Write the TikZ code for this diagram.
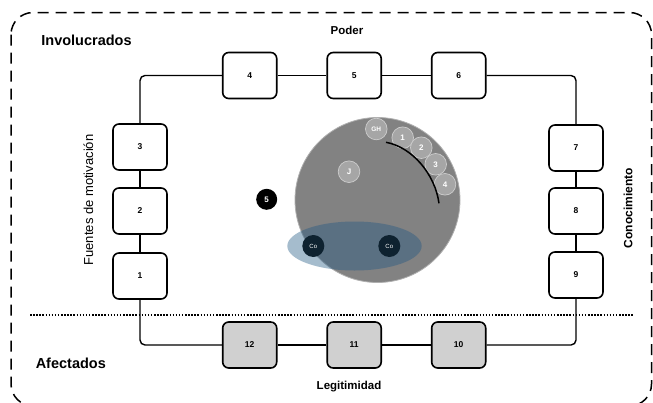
\documentclass[tikz,border=0pt]{standalone}
\usepackage{fontspec}
\setmainfont{Liberation Sans}
\usetikzlibrary{shapes.geometric}

\definecolor{boxgrey}{RGB}{208,208,208}
\definecolor{discgrey}{RGB}{130,130,130}
\definecolor{discedge}{RGB}{175,175,175}
\definecolor{smgrey}{RGB}{166,166,166}
\definecolor{smedge}{RGB}{205,205,205}
\definecolor{ellblue}{RGB}{30,87,130}
\definecolor{conavy}{RGB}{14,34,48}

\begin{document}
\begin{tikzpicture}[x=1pt,y=-1pt,
  box/.style={draw=black, line width=1.6pt, rounded corners=6pt, fill=white,
    minimum width=54pt, minimum height=46pt, inner sep=0pt,
    font=\fontsize{8.5}{10}\selectfont\bfseries},
  gbox/.style={box, fill=boxgrey},
  conn/.style={line width=1.4pt, rounded corners=5pt},
  frame/.style={line width=1.5pt, rounded corners=22pt, dash pattern=on 11pt off 7pt},
  sep/.style={line width=1.5pt, dash pattern=on 1.5pt off 1.6pt},
  biglabel/.style={font=\fontsize{14.5}{16}\selectfont\bfseries},
  axislabel/.style={font=\fontsize{11.5}{13}\selectfont\bfseries},
  disc/.style={circle, inner sep=0pt},
  member/.style={disc, fill=smgrey, draw=smedge, line width=0.7pt, minimum size=21.6pt,
    text=white, font=\fontsize{8}{9}\selectfont\bfseries},
  comember/.style={disc, fill=conavy, minimum size=22pt, text=white,
    font=\fontsize{6}{7}\selectfont},
]
\useasboundingbox (0,0) rectangle (653,402);

% outer dashed frame (its lower edge lies just below the page) and the dotted separator
\draw[frame] (11,12.5) rectangle (651.5,406);
\draw[sep] (30,315) -- (633,315);

% group labels
\node[biglabel, anchor=base] (inv) at (86.5,45.7) {Involucrados};
\node[biglabel, anchor=base] (afe) at (70.8,368.6) {Afectados};
\node[axislabel, anchor=base] (pod) at (347,34.3) {Poder};
\node[axislabel, anchor=base] (leg) at (349,389) {Legitimidad};
\node[rotate=90, font=\fontsize{13}{15}\selectfont] (fue) at (88.3,200) {Fuentes de motivación};
\node[rotate=90, font=\fontsize{12}{14}\selectfont\bfseries] (con) at (628,208) {Conocimiento};

% boxes around the ring
\node[box] (b1) at (140,276) {1};
\node[box] (b2) at (140,211) {2};
\node[box] (b3) at (140,147) {3};
\node[box] (b4) at (249.7,75.5) {4};
\node[box] (b5) at (354.2,75.5) {5};
\node[box] (b6) at (458.7,75.5) {6};
\node[box] (b7) at (576,148) {7};
\node[box] (b8) at (576,211) {8};
\node[box] (b9) at (576,275) {9};
\node[gbox] (b10) at (458.7,345) {10};
\node[gbox] (b11) at (354.2,345) {11};
\node[gbox] (b12) at (249.7,345) {12};

% ring connectors
\draw[conn] (b1) -- (b2);
\draw[conn] (b2) -- (b3);
\draw[conn] (b3.north) |- (b4.west);
\draw[conn] (b4) -- (b5);
\draw[conn] (b5) -- (b6);
\draw[conn] (b6.east) -| (b7.north);
\draw[conn] (b7) -- (b8);
\draw[conn] (b8) -- (b9);
\draw[conn] (b9.south) |- (b10.east);
\draw[conn] (b10) -- (b11);
\draw[conn] (b11) -- (b12);
\draw[conn] (b12.west) -| (b1.south);

% central disc with its members
\node[disc, fill=discgrey, draw=discedge, line width=0.8pt, minimum size=165pt] (core) at (377.5,200) {};
\node[ellipse, inner sep=0pt, fill=ellblue, fill opacity=0.4, minimum width=134.4pt, minimum height=49pt] (grp) at (354.5,246) {};
\node[comember] (co1) at (313.3,246) {Co};
\node[comember] (co2) at (389.3,246) {Co};

\node[member, font=\fontsize{6.5}{7}\selectfont\bfseries] (gh) at (376.3,129) {GH};
\node[member] (m1) at (402.7,137.7) {1};
\node[member] (m2) at (421.3,147.7) {2};
\node[member] (m3) at (435.7,164.3) {3};
\node[member] (m4) at (445,184.3) {4};
\node[member] (mj) at (349,171.7) {J};

% curve running along the inner side of the ordered members
\coordinate (arcA) at (386,142.3);
\coordinate (arcB) at (439,203.3);
\draw[line width=1.5pt] (arcA) .. controls (412,147) and (435,174) .. (arcB);

\node[disc, fill=black, minimum size=21pt, text=white, font=\fontsize{8}{9}\selectfont\bfseries] (out5) at (266.7,199.3) {5};
\end{tikzpicture}
\end{document}
